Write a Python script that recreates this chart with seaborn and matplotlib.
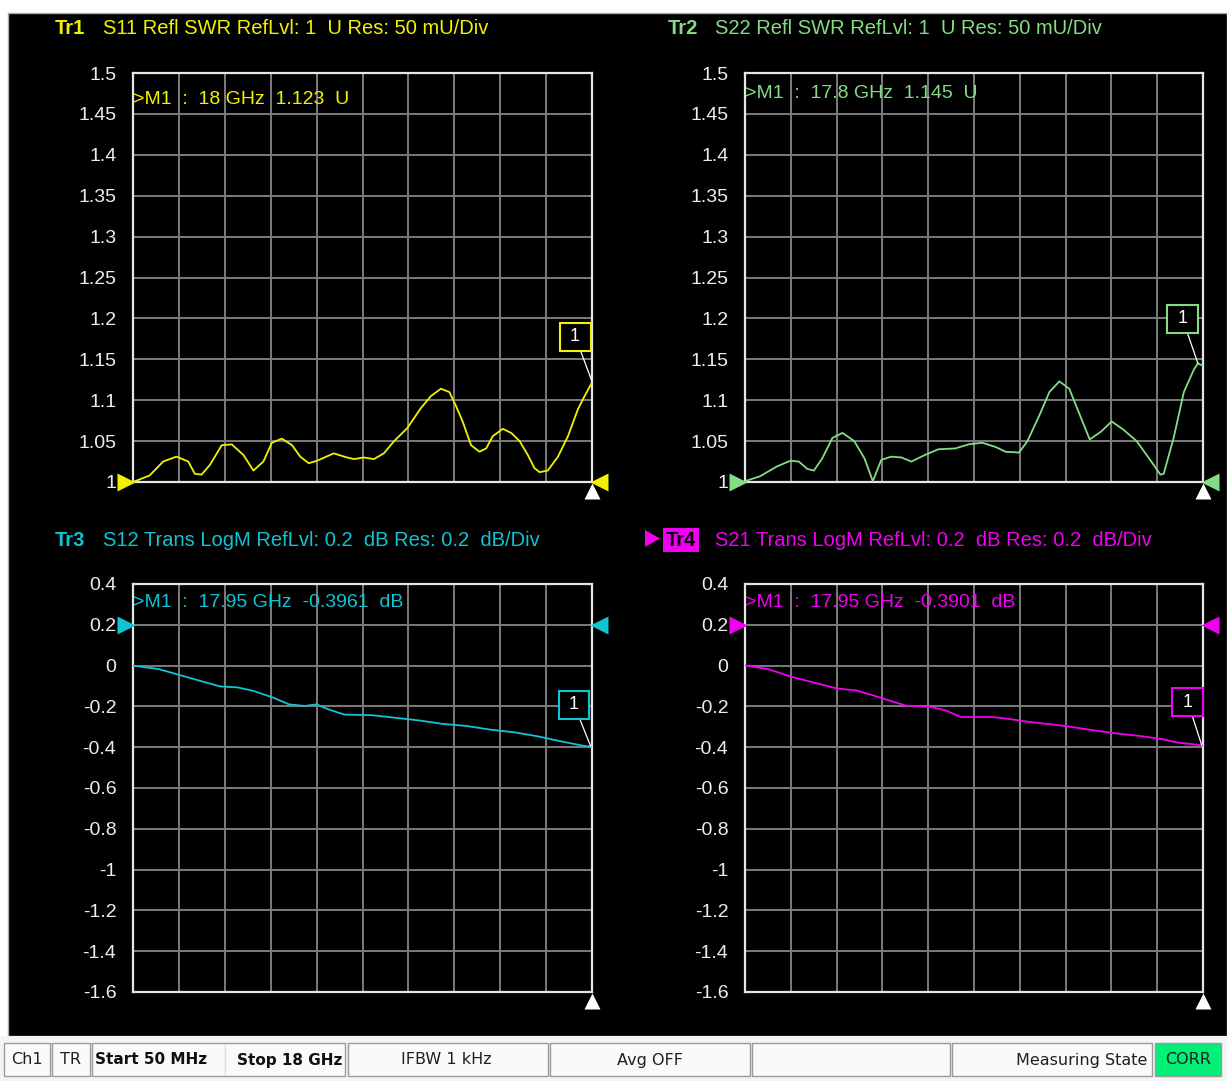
"""VNA screen capture: S11/S22 SWR and S12/S21 transmission, 50 MHz - 18 GHz."""
import numpy as np
import matplotlib
matplotlib.use('Agg')
import matplotlib.pyplot as plt
import matplotlib.transforms as mtransforms
from matplotlib.patches import Rectangle, Polygon
import seaborn as sns

# ── Trace data ───────────────────────────────────────────────────────────────
s11_freq = [0.05, 0.70, 1.23, 1.75, 2.21, 2.47, 2.73, 3.06, 3.52, 3.91, 4.37, 4.76,
            5.15, 5.48, 5.87, 6.27, 6.59, 6.92, 7.25, 7.90, 8.42, 8.69, 9.08, 9.47,
            9.86, 10.26, 10.78, 11.30, 11.70, 12.09, 12.42, 12.68, 12.94, 13.27,
            13.60, 13.86, 14.12, 14.51, 14.84, 15.17, 15.49, 15.75, 15.95, 16.27,
            16.67, 17.06, 17.45, 17.71, 17.97, 18.0]
s11_swr = [1.000, 1.008, 1.025, 1.031, 1.025, 1.010, 1.009, 1.021, 1.045, 1.046,
           1.033, 1.014, 1.025, 1.048, 1.053, 1.045, 1.031, 1.023, 1.026, 1.035,
           1.030, 1.028, 1.030, 1.028, 1.035, 1.050, 1.066, 1.090, 1.105, 1.114,
           1.110, 1.093, 1.074, 1.045, 1.037, 1.041, 1.056, 1.065, 1.060, 1.050,
           1.033, 1.017, 1.012, 1.014, 1.031, 1.056, 1.089, 1.105, 1.120, 1.123]

s22_freq = [0.05, 0.64, 1.30, 1.83, 2.16, 2.49, 2.75, 3.08, 3.48, 3.87, 4.33, 4.73,
            5.06, 5.39, 5.78, 6.18, 6.57, 7.10, 7.63, 8.29, 8.81, 9.34, 9.86, 10.26,
            10.79, 11.12, 11.58, 11.98, 12.37, 12.76, 13.16, 13.56, 14.02, 14.42,
            14.88, 15.40, 15.93, 16.33, 16.46, 16.85, 17.25, 17.65, 17.8, 18.0]
s22_swr = [1.001, 1.007, 1.019, 1.026, 1.025, 1.016, 1.014, 1.029, 1.054, 1.060,
           1.050, 1.029, 1.001, 1.027, 1.031, 1.030, 1.025, 1.033, 1.040, 1.041,
           1.046, 1.048, 1.043, 1.037, 1.036, 1.050, 1.081, 1.110, 1.123, 1.114,
           1.083, 1.052, 1.062, 1.074, 1.064, 1.050, 1.027, 1.009, 1.010, 1.054,
           1.110, 1.138, 1.145, 1.142]

s12_freq = [0.05, 1.05, 1.98, 2.91, 3.45, 4.14, 4.76, 5.53, 6.15, 6.77, 7.23, 7.70,
            8.31, 9.39, 10.32, 11.25, 12.17, 13.10, 14.03, 14.96, 15.89, 16.81,
            17.66, 18.0]
s12_db = [0.0, -0.017, -0.050, -0.083, -0.102, -0.107, -0.124, -0.157, -0.190,
          -0.198, -0.190, -0.215, -0.240, -0.243, -0.256, -0.269, -0.286, -0.296,
          -0.314, -0.327, -0.347, -0.372, -0.393, -0.398]

s21_freq = [0.05, 0.93, 1.84, 2.74, 3.65, 4.41, 5.02, 5.78, 6.38, 7.29, 7.90, 8.51,
            9.72, 10.32, 11.23, 12.14, 12.75, 13.66, 14.56, 15.47, 16.38, 16.99,
            17.59, 18.0]
s21_db = [0.0, -0.016, -0.054, -0.083, -0.112, -0.122, -0.144, -0.174, -0.197,
          -0.202, -0.219, -0.252, -0.252, -0.260, -0.277, -0.289, -0.299, -0.316,
          -0.332, -0.344, -0.360, -0.377, -0.385, -0.392]

swr_ticks = [1.5, 1.45, 1.4, 1.35, 1.3, 1.25, 1.2, 1.15, 1.1, 1.05, 1.0]
swr_labels = ['1.5', '1.45', '1.4', '1.35', '1.3', '1.25', '1.2', '1.15', '1.1', '1.05', '1']
db_ticks = [0.4, 0.2, 0.0, -0.2, -0.4, -0.6, -0.8, -1.0, -1.2, -1.4, -1.6]
db_labels = ['0.4', '0.2', '0', '-0.2', '-0.4', '-0.6', '-0.8', '-1', '-1.2', '-1.4', '-1.6']

YELLOW = '#F2F200'
GREEN = '#84DC84'
CYAN = '#10C4D4'
MAGENTA = '#F000F0'
GRID = '#7C7C7C'

sns.set_theme(style='dark', rc={'axes.facecolor': 'none', 'figure.facecolor': 'white'})
plt.rcParams['font.family'] = ['Liberation Sans Narrow', 'Liberation Sans', 'DejaVu Sans']

W, H = 1227, 1081
fig = plt.figure(figsize=(W / 100, H / 100), dpi=100)

# background layer in pixel coordinates
bg = fig.add_axes([0, 0, 1, 1], zorder=-5)
bg.set_xlim(0, W)
bg.set_ylim(H, 0)
bg.axis('off')
bg.add_patch(Rectangle((8, 13), W - 8, 1023, fc='black', ec='#A8A8A8', lw=1))


def px_axes(x0, x1, y0, y1):
    return fig.add_axes([x0 / W, 1 - y1 / H, (x1 - x0) / W, (y1 - y0) / H])


def panel(ax, freq, vals, color, ticks, labels, ref, mk, mk_off, readout, ry):
    sns.lineplot(x=freq, y=vals, ax=ax, color=color, lw=1.3, sort=False,
                 estimator=None, zorder=5)
    ax.set_xlim(0.05, 18)
    ax.set_ylim(ticks[-1], ticks[0])
    ax.set_xticks(np.linspace(0.05, 18, 11))
    ax.set_xticklabels([])
    ax.set_yticks(ticks)
    ax.set_yticklabels(labels)
    ax.set_xlabel('')
    ax.set_ylabel('')
    ax.grid(True, color=GRID, lw=1.4)
    ax.tick_params(axis='both', length=0, pad=12, labelsize=14, labelcolor='#EDEDED')
    for s in ax.spines.values():
        s.set_color('#E6E6E6')
        s.set_linewidth(1.6)
        s.set_visible(True)
    # reference level pointers
    bt = mtransforms.blended_transform_factory(ax.transAxes, ax.transData)
    ax.plot(-0.016, ref, marker='>', ms=13, color=color, mec='none', transform=bt,
            clip_on=False, zorder=6)
    ax.plot(1.016, ref, marker='<', ms=13, color=color, mec='none', transform=bt,
            clip_on=False, zorder=6)
    ax.plot(1.0, -0.022, marker='^', ms=11, color='white', mec='none',
            transform=ax.transAxes, clip_on=False, zorder=6)
    # marker M1
    ax.annotate(' 1 ', xy=mk, xytext=mk_off, textcoords='offset points', color='white',
                fontsize=13, ha='center', va='center', zorder=7,
                bbox=dict(boxstyle='square,pad=0.3', fc='black', ec=color, lw=1.5),
                arrowprops=dict(arrowstyle='-', color='white', lw=0.9,
                                shrinkA=0, shrinkB=0))
    ax.text(0.0, ry, readout, transform=ax.transAxes, color=color, fontsize=14,
            ha='left', va='center', zorder=7)


ax1 = px_axes(133, 592, 73, 482)
panel(ax1, s11_freq, s11_swr, YELLOW, swr_ticks, swr_labels, 1.0, (18.0, 1.123),
      (-12, 32), '>M1  :  18 GHz  1.123  U', 0.936)
ax2 = px_axes(745, 1203, 73, 482)
panel(ax2, s22_freq, s22_swr, GREEN, swr_ticks, swr_labels, 1.0, (17.8, 1.145),
      (-11, 32), '>M1  :  17.8 GHz  1.145  U', 0.950)
ax3 = px_axes(133, 592, 584, 992)
panel(ax3, s12_freq, s12_db, CYAN, db_ticks, db_labels, 0.2, (17.95, -0.3961),
      (-12, 30), '>M1  :  17.95 GHz  -0.3961  dB', 0.955)
ax4 = px_axes(745, 1203, 584, 992)
panel(ax4, s21_freq, s21_db, MAGENTA, db_ticks, db_labels, 0.2, (17.95, -0.3901),
      (-10, 31), '>M1  :  17.95 GHz  -0.3901  dB', 0.955)

# ── Trace titles ─────────────────────────────────────────────────────────────
tfs = 14.5
bg.text(55, 29, 'Tr1', color=YELLOW, fontsize=tfs, fontweight='bold', va='center')
bg.text(103, 29, 'S11 Refl SWR RefLvl: 1  U Res: 50 mU/Div', color=YELLOW, fontsize=tfs, va='center')
bg.text(668, 29, 'Tr2', color=GREEN, fontsize=tfs, fontweight='bold', va='center')
bg.text(715, 29, 'S22 Refl SWR RefLvl: 1  U Res: 50 mU/Div', color=GREEN, fontsize=tfs, va='center')
bg.text(55, 540, 'Tr3', color=CYAN, fontsize=tfs, fontweight='bold', va='center')
bg.text(103, 540, 'S12 Trans LogM RefLvl: 0.2  dB Res: 0.2  dB/Div', color=CYAN, fontsize=tfs, va='center')
bg.add_patch(Polygon([(645, 530), (645, 547), (660, 538.5)], closed=True, fc=MAGENTA, ec='none'))
bg.add_patch(Rectangle((663, 528), 36, 24, fc=MAGENTA, ec='none'))
bg.text(681, 540, 'Tr4', color='black', fontsize=tfs, fontweight='bold', va='center', ha='center')
bg.text(715, 540, 'S21 Trans LogM RefLvl: 0.2  dB Res: 0.2  dB/Div', color=MAGENTA, fontsize=tfs, va='center')

# ── Status bar ───────────────────────────────────────────────────────────────
bg.add_patch(Rectangle((0, 1036), W, H - 1036, fc='#F4F4F4', ec='none'))
cells = [(4, 50, '#FAFAFA'), (52, 90, '#FAFAFA'), (92, 345, '#FAFAFA'),
         (348, 548, '#FAFAFA'), (550, 750, '#FAFAFA'), (752, 950, '#FAFAFA'),
         (952, 1152, '#FAFAFA'), (1155, 1221, '#00F078')]
for x0, x1, fc in cells:
    bg.add_patch(Rectangle((x0, 1043), x1 - x0, 33, fc=fc, ec='#9A9A9A', lw=1))
bg.plot([225, 225], [1044, 1075], color='#DDDDDD', lw=1)
sfs = 11.5
sb = ['DejaVu Sans']
ty = 1060
bg.text(27, ty, 'Ch1', fontsize=sfs, family=sb, ha='center', va='center', color='#202020')
bg.text(71, ty, 'TR', fontsize=sfs, family=sb, ha='center', va='center', color='#202020')
bg.text(95, ty, 'Start 50 MHz', fontsize=11, family=sb, fontweight='bold', ha='left', va='center', color='#101010')
bg.text(342, ty, 'Stop 18 GHz', fontsize=11, family=sb, fontweight='bold', ha='right', va='center', color='#101010')
bg.text(446, ty, 'IFBW 1 kHz', fontsize=sfs, family=sb, ha='center', va='center', color='#202020')
bg.text(650, ty, 'Avg OFF', fontsize=sfs, family=sb, ha='center', va='center', color='#202020')
bg.text(1147, ty, 'Measuring State', fontsize=sfs, family=sb, ha='right', va='center', color='#202020')
bg.text(1188, ty, 'CORR', fontsize=sfs, family=sb, ha='center', va='center', color='#202020')

fig.savefig('out.png', dpi=100, facecolor='white')
